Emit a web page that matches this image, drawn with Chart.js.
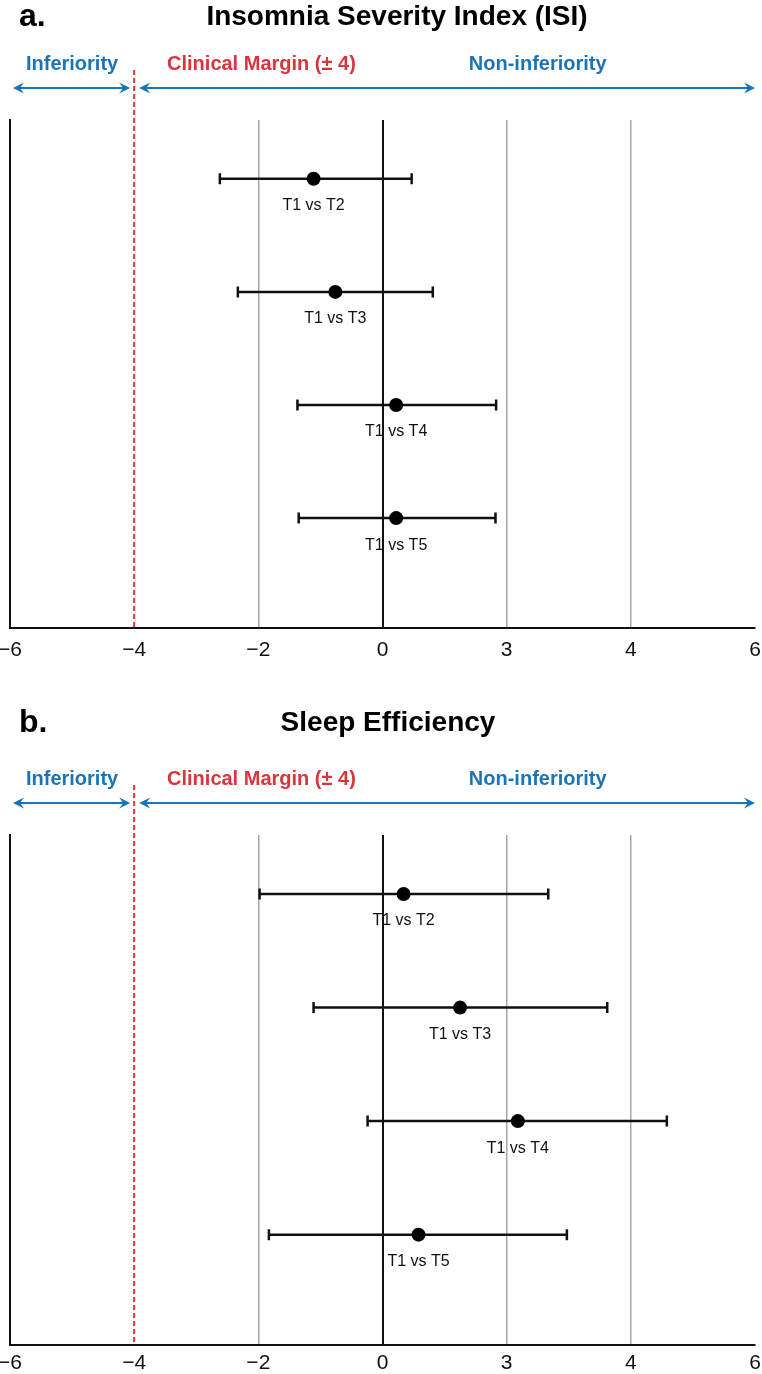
<!DOCTYPE html>
<html><head><meta charset="utf-8">
<script src="https://cdn.jsdelivr.net/npm/chart.js@4.4.0/dist/chart.umd.min.js"></script>
<style>
html,body{margin:0;padding:0;background:#fff;width:762px;height:1374px;overflow:hidden}
canvas{position:absolute;left:0}
</style></head><body>
<canvas id="ca" width="762" height="687" style="top:0"></canvas>
<canvas id="cb" width="762" height="687" style="top:699px"></canvas>
<script>
const tickValues = [-6, -4, -2, 0, 2, 4, 6];
const tickLabels = ['−6', '−4', '−2', '0', '3', '4', '6'];
const comparisons = ['T1 vs T2', 'T1 vs T3', 'T1 vs T4', 'T1 vs T5'];
const rowPos = [0, 1, 2, 3];
const isiEst = [-1.11, -0.76, 0.22, 0.22];
const isiLow = [-2.62, -2.33, -1.37, -1.35];
const isiHigh = [0.47, 0.81, 1.83, 1.82];
const seEst = [0.34, 1.25, 2.18, 0.58];
const seLow = [-1.98, -1.11, -0.24, -1.83];
const seHigh = [2.67, 3.62, 4.58, 2.97];
const marginValue = -4;
const zoneLabels = ['Inferiority', 'Clinical Margin (± 4)', 'Non-inferiority'];
const zoneLabelPos = [-5, -1.95, 2.5];

const FAM = '"Liberation Sans", Arial, Helvetica, sans-serif';
const BLUE = '#1b75b5';
const RED = '#d8353c';

function arrowHead(ctx, x, y, dir) {
  ctx.beginPath();
  ctx.moveTo(x, y);
  ctx.lineTo(x - dir * 11, y - 5.5);
  ctx.lineTo(x - dir * 7, y);
  ctx.lineTo(x - dir * 11, y + 5.5);
  ctx.closePath();
  ctx.fill();
}

function makePanel(id, cfg) {
  const plugin = {
    id: 'forest' + id,
    beforeDatasetsDraw(chart) {
      const ctx = chart.ctx, xs = chart.scales.x, ys = chart.scales.y;
      ctx.save();
      ctx.strokeStyle = '#111';
      ctx.lineWidth = 2.5;
      for (let i = 0; i < rowPos.length; i++) {
        const y = ys.getPixelForValue(rowPos[i]);
        const x1 = xs.getPixelForValue(cfg.low[i]);
        const x2 = xs.getPixelForValue(cfg.high[i]);
        ctx.beginPath();
        ctx.moveTo(x1, y); ctx.lineTo(x2, y);
        ctx.moveTo(x1, y - 5.5); ctx.lineTo(x1, y + 5.5);
        ctx.moveTo(x2, y - 5.5); ctx.lineTo(x2, y + 5.5);
        ctx.stroke();
      }
      const a = chart.chartArea;
      const xm = xs.getPixelForValue(marginValue);
      ctx.strokeStyle = RED;
      ctx.lineWidth = 2;
      ctx.setLineDash([5, 3]);
      ctx.beginPath();
      ctx.moveTo(xm, a.top - 50); ctx.lineTo(xm, a.bottom);
      ctx.stroke();
      ctx.setLineDash([]);
      ctx.restore();
    },
    afterDatasetsDraw(chart) {
      const ctx = chart.ctx, xs = chart.scales.x, ys = chart.scales.y;
      const a = chart.chartArea;
      ctx.save();
      ctx.fillStyle = '#111';
      ctx.font = '16px ' + FAM;
      ctx.textAlign = 'center';
      ctx.textBaseline = 'middle';
      for (let i = 0; i < rowPos.length; i++) {
        ctx.fillText(comparisons[i], xs.getPixelForValue(cfg.est[i]), ys.getPixelForValue(rowPos[i]) + 27);
      }
      const xm = xs.getPixelForValue(marginValue);
      const ay = a.top - 32;
      ctx.strokeStyle = BLUE; ctx.fillStyle = BLUE; ctx.lineWidth = 2;
      const l1 = a.left + 3, r1 = xm - 4, l2 = xm + 5, r2 = a.right;
      ctx.beginPath(); ctx.moveTo(l1 + 6, ay); ctx.lineTo(r1 - 6, ay); ctx.stroke();
      arrowHead(ctx, l1, ay, -1); arrowHead(ctx, r1, ay, 1);
      ctx.beginPath(); ctx.moveTo(l2 + 6, ay); ctx.lineTo(r2 - 6, ay); ctx.stroke();
      arrowHead(ctx, l2, ay, -1); arrowHead(ctx, r2, ay, 1);
      ctx.font = 'bold 20px ' + FAM;
      ctx.textBaseline = 'middle';
      const cols = [BLUE, RED, BLUE];
      for (let k = 0; k < zoneLabels.length; k++) {
        ctx.fillStyle = cols[k];
        ctx.fillText(zoneLabels[k], xs.getPixelForValue(zoneLabelPos[k]), a.top - 56);
      }
      ctx.fillStyle = '#000';
      ctx.font = 'bold 28px ' + FAM;
      ctx.fillText(cfg.title, cfg.titleX, a.top - cfg.titleOff);
      ctx.font = 'bold 32px ' + FAM;
      ctx.textAlign = 'left';
      ctx.fillText(cfg.letter, 19, a.top - cfg.titleOff);
      ctx.restore();
    }
  };

  return new Chart(document.getElementById(id), {
    type: 'scatter',
    data: {
      datasets: [{
        data: cfg.est.map((v, i) => ({ x: v, y: rowPos[i] })),
        backgroundColor: '#000',
        borderWidth: 0,
        pointRadius: 7,
        clip: false
      }]
    },
    options: {
      responsive: false,
      animation: false,
      events: [],
      layout: { padding: { top: cfg.padTop, left: 0, right: 0, bottom: cfg.padBottom } },
      plugins: { legend: { display: false }, tooltip: { enabled: false } },
      scales: {
        x: {
          type: 'linear', min: -6, max: 6,
          afterBuildTicks: s => { s.ticks = tickValues.map(v => ({ value: v })); },
          afterFit: s => { s.paddingLeft = 10; s.paddingRight = 4; },
          ticks: {
            callback: (v, i) => tickLabels[i],
            font: { size: 21, family: FAM }, color: '#111', padding: cfg.tickPad,
            maxRotation: 0, autoSkip: false
          },
          grid: {
            drawTicks: false,
            color: c => c.tick && c.tick.value === 0 ? '#111' : ([-2, 2, 4].includes(c.tick && c.tick.value) ? '#a8a8a8' : 'rgba(0,0,0,0)'),
            lineWidth: c => c.tick && c.tick.value === 0 ? 2 : 1.5
          },
          border: { display: true, color: '#111', width: 2 }
        },
        y: {
          type: 'linear', min: -0.52, max: 3.97, reverse: true,
          ticks: { display: false },
          grid: { display: false, drawTicks: false },
          border: { display: true, color: '#111', width: 2 }
        }
      }
    },
    plugins: [plugin]
  });
}

makePanel('ca', { est: isiEst, low: isiLow, high: isiHigh, title: 'Insomnia Severity Index (ISI)', letter: 'a.', titleX: 397, titleOff: 103, padTop: 120, padBottom: 14, tickPad: 10 });
makePanel('cb', { est: seEst, low: seLow, high: seHigh, title: 'Sleep Efficiency', letter: 'b.', titleX: 388, titleOff: 112, padTop: 136, padBottom: 4, tickPad: 6 });
</script>
</body></html>
